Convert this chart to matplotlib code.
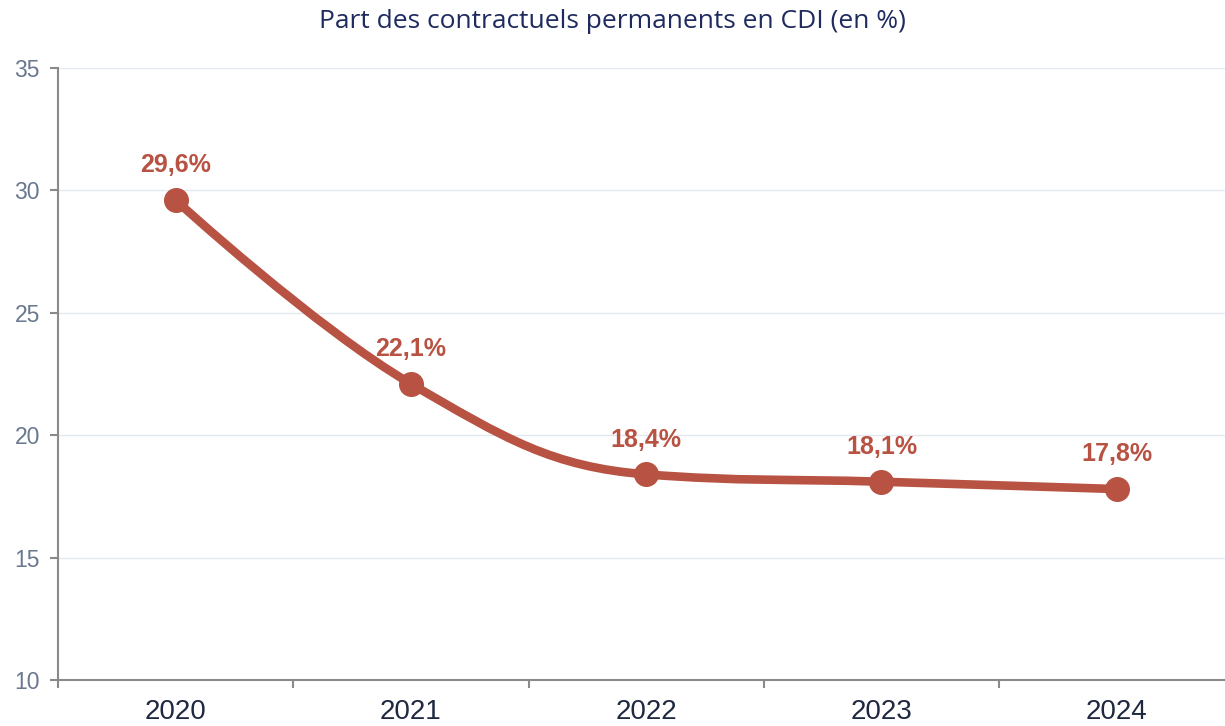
import numpy as np
import matplotlib.pyplot as plt
from matplotlib.path import Path
from matplotlib.patches import PathPatch

# données
annees = ['2020', '2021', '2022', '2023', '2024']
part_cdi = [29.6, 22.1, 18.4, 18.1, 17.8]
etiquettes = ['29,6%', '22,1%', '18,4%', '18,1%', '17,8%']

rouge = '#B85243'

fig = plt.figure(figsize=(12.25, 7.26), dpi=100)
ax = fig.add_axes([58/1225, 46/726, 1 - 58/1225, 612/726])


def spline_path(xs, ys, smoothing=1.5):
    """courbe lissée façon 'spline' (points de contrôle de Bézier)"""
    n = len(xs)
    left = [(xs[i], ys[i]) for i in range(n)]
    right = [(xs[i], ys[i]) for i in range(n)]
    d = smoothing + 1
    for i in range(1, n - 1):
        px, py = xs[i], ys[i]
        lx, ly = xs[i-1], ys[i-1]
        nx, ny = xs[i+1], ys[i+1]
        lcx = (smoothing*px + lx) / d
        lcy = (smoothing*py + ly) / d
        rcx = (smoothing*px + nx) / d
        rcy = (smoothing*py + ny) / d
        corr = (rcy - lcy) * (rcx - px) / (rcx - lcx) + py - rcy
        lcy += corr
        rcy += corr
        if lcy > ly and lcy > py:
            lcy = max(ly, py); rcy = 2*py - lcy
        elif lcy < ly and lcy < py:
            lcy = min(ly, py); rcy = 2*py - lcy
        if rcy > ny and rcy > py:
            rcy = max(ny, py); lcy = 2*py - rcy
        elif rcy < ny and rcy < py:
            rcy = min(ny, py); lcy = 2*py - rcy
        left[i] = (lcx, lcy)
        right[i] = (rcx, rcy)
    verts = [(xs[0], ys[0])]
    codes = [Path.MOVETO]
    for i in range(1, n):
        verts += [right[i-1], left[i], (xs[i], ys[i])]
        codes += [Path.CURVE4] * 3
    return Path(verts, codes)


x = np.arange(len(annees))
ax.add_patch(PathPatch(spline_path(list(x), part_cdi), fill=False,
                       edgecolor=rouge, lw=6.2, capstyle='round', zorder=3))
ax.plot(x, part_cdi, 'o', color=rouge, ms=17, zorder=4)

for xi, yi, txt in zip(x, part_cdi, etiquettes):
    ax.annotate(txt, (xi, yi), xytext=(0, 25), textcoords='offset points',
                ha='center', va='center', color=rouge, fontsize=18,
                fontweight='bold', family='Liberation Sans')

# ticks d'abord (set_xticks peut élargir les limites), puis limites
ax.set_yticks([10, 15, 20, 25, 30, 35])
ax.set_xticks(x)
ax.set_xticklabels(annees)
ax.set_xticks(np.arange(-0.5, 4.5, 1), minor=True)
ax.set_ylim(10, 35)
ax.set_xlim(-0.5, 4.46)

ax.tick_params(axis='x', which='major', length=0, pad=14,
               labelsize=20, labelcolor='#1E2840')
ax.tick_params(axis='x', which='minor', length=6, width=1.5, color='#8A8A8A',
               direction='out')
ax.tick_params(axis='y', length=6, width=1.5, color='#8A8A8A', pad=7,
               labelsize=16.5, labelcolor='#6A7890')
for lab in ax.get_xticklabels() + ax.get_yticklabels():
    lab.set_family('Liberation Sans')

ax.grid(axis='y', color='#E4E9F0', lw=1)
ax.set_axisbelow(True)
for s in ['top', 'right']:
    ax.spines[s].set_visible(False)
for s in ['left', 'bottom']:
    ax.spines[s].set_color('#8A8A8A')
    ax.spines[s].set_linewidth(1.5)

fig.text(0.5, 1 - 22/726, 'Part des contractuels permanents en CDI (en %)',
         ha='center', va='center', fontsize=19, color='#1F2A5E',
         family='Open Sans')

fig.savefig('out.png', dpi=100)
